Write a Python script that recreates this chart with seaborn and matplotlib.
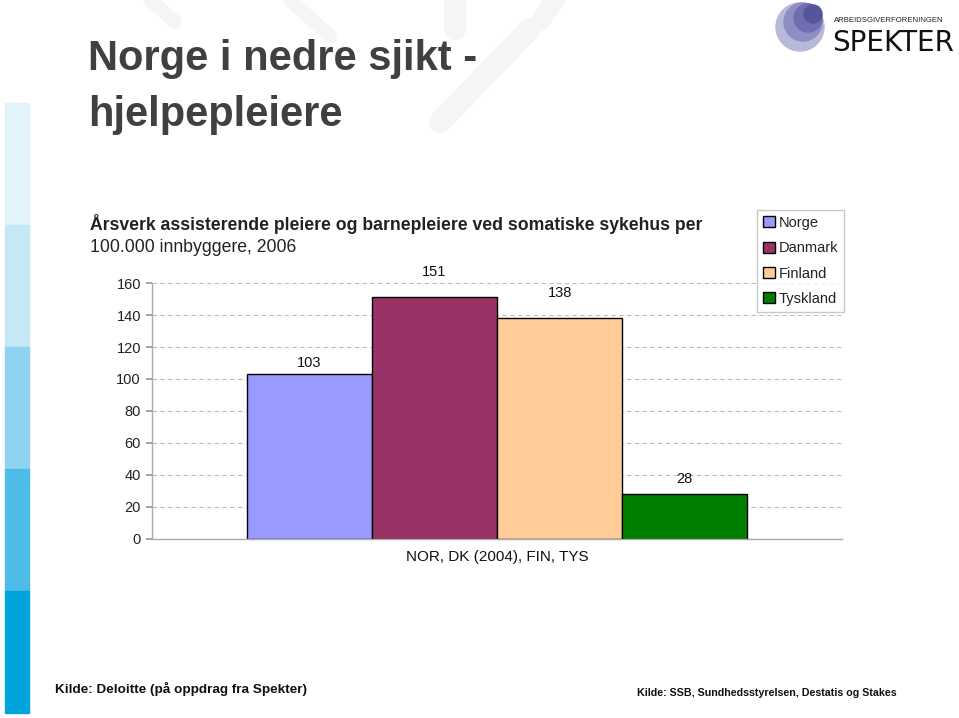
import matplotlib
matplotlib.use("Agg")
import matplotlib.pyplot as plt
import matplotlib.patches as mpatches
from matplotlib import font_manager
import seaborn as sns
import pandas as pd

# Data
countries = ["Norge", "Danmark", "Finland", "Tyskland"]
values = [103, 151, 138, 28]
category = "NOR, DK (2004), FIN, TYS"
bar_colors = ["#9999FF", "#993366", "#FFCC99", "#008000"]
yticks = [0, 20, 40, 60, 80, 100, 120, 140, 160]

df = pd.DataFrame({"group": [category] * len(countries), "land": countries, "verdi": values})

sns.set_theme(style="white")
names = {f.name for f in font_manager.fontManager.ttflist}
narrow = "Liberation Sans Narrow" if "Liberation Sans Narrow" in names else "Liberation Sans"
plt.rcParams["font.family"] = ["Liberation Sans", "DejaVu Sans"]

fig = plt.figure(figsize=(9.59, 7.18), dpi=100)

# left decorative strip
strip_colors = ["#E3F3FB", "#C5E8F7", "#8FD3F0", "#4DBCE7", "#00A4DD"]
seg_h = 122 / 718
for i, c in enumerate(strip_colors):
    y0 = 1 - (103 + 122 * (i + 1)) / 718
    fig.patches.append(mpatches.Rectangle((5 / 959, y0), 24 / 959, seg_h,
                                          transform=fig.transFigure, color=c, zorder=0))

# faint watermark strokes
wm = "#F5F5F5"
fig.add_artist(plt.Line2D([150 / 959, 175 / 959], [1.0, 0.97], color=wm, lw=10, transform=fig.transFigure, zorder=0))
fig.add_artist(plt.Line2D([290 / 959, 330 / 959], [1.0, 0.95], color=wm, lw=10, transform=fig.transFigure, zorder=0))
fig.add_artist(plt.Line2D([455 / 959, 455 / 959], [1.0, 0.96], color=wm, lw=16, transform=fig.transFigure, zorder=0))
fig.add_artist(plt.Line2D([530 / 959, 440 / 959], [0.96, 0.83], color=wm, lw=16, transform=fig.transFigure, zorder=0))
fig.add_artist(plt.Line2D([555 / 959, 540 / 959], [1.0, 0.97], color=wm, lw=14, transform=fig.transFigure, zorder=0))

# headline
fig.text(88 / 959, 1 - 70 / 718, "Norge i nedre sjikt -", fontsize=30, fontweight="bold",
         color="#404040", family=narrow, va="baseline")
fig.text(88 / 959, 1 - 126 / 718, "hjelpepleiere", fontsize=30, fontweight="bold",
         color="#404040", family=narrow, va="baseline")

# logo
logo_c = [("#B8B8D8", 800, 27, 24), ("#8E8EC4", 803, 22, 19), ("#6E6EB0", 808, 18, 14), ("#555599", 813, 14, 9)]
for col, cx, cy, r in logo_c:
    fig.patches.append(mpatches.Ellipse((cx / 959, 1 - cy / 718), 2 * r / 959, 2 * r / 718,
                                        transform=fig.transFigure, color=col, zorder=1))
fig.text(834 / 959, 1 - 22 / 718, "ARBEIDSGIVERFORENINGEN", fontsize=5.6, color="#222222", va="baseline")
fig.text(832 / 959, 1 - 51 / 718, "SPEKTER", fontsize=20, color="#111111", va="baseline", family="DejaVu Sans")

# chart subtitle
fig.text(90 / 959, 1 - 230 / 718, "Årsverk assisterende pleiere og barnepleiere ved somatiske sykehus per",
         fontsize=12.7, fontweight="bold", color="#222222", family=narrow, va="baseline")
fig.text(90 / 959, 1 - 252 / 718, "100.000 innbyggere, 2006",
         fontsize=12.7, color="#222222", family=narrow, va="baseline")

ax = fig.add_axes([152 / 959, 1 - 539 / 718, 690 / 959, 256 / 718])
sns.barplot(data=df, x="group", y="verdi", hue="land", hue_order=countries, palette=bar_colors,
            width=0.726, edgecolor="black", linewidth=1, saturation=1, ax=ax, legend=True)
ax.set_xlim(-0.5, 0.5)
ax.set_ylim(0, 160)
ax.set_yticks(yticks)
ax.set_yticklabels([str(v) for v in yticks], fontsize=10.5, color="#222222")
ax.tick_params(axis="y", length=4, color="#999999", pad=4, left=True)
ax.tick_params(axis="x", length=0, pad=8)
ax.set_xticks([0])
ax.set_xticklabels([category], fontsize=11, family=narrow, color="#111111")
ax.set_xlabel("")
ax.set_ylabel("")
ax.yaxis.grid(True, linestyle=(0, (4, 3)), color="#BBBBBB", linewidth=0.8)
ax.set_axisbelow(True)
for s in ["top", "right"]:
    ax.spines[s].set_visible(False)
for s in ["left", "bottom"]:
    ax.spines[s].set_color("#AAAAAA")
    ax.spines[s].set_linewidth(1)

pads = [3, 13, 13, 6]
for cont, p in zip(ax.containers, pads):
    ax.bar_label(cont, fmt="%d", padding=p, fontsize=10.5, color="#111111")

leg = ax.legend(loc="upper left", bbox_to_anchor=(757 / 959, 1 - 210 / 718), bbox_transform=fig.transFigure,
                frameon=True, fancybox=False, fontsize=10.5, handlelength=0.8, handleheight=0.8,
                handletextpad=0.3, labelspacing=0.78, borderpad=0.4, borderaxespad=0)
leg.get_frame().set_edgecolor("#BBBBBB")
leg.get_frame().set_linewidth(1)
for t in leg.get_texts():
    t.set_color("#222222")

# sources
fig.text(55 / 959, 1 - 693 / 718, "Kilde: Deloitte (på oppdrag fra Spekter)", fontsize=9.7,
         fontweight="bold", color="#111111", va="baseline")
fig.text(637 / 959, 1 - 696 / 718, "Kilde: SSB, Sundhedsstyrelsen, Destatis og Stakes", fontsize=7.7,
         fontweight="bold", color="#111111", va="baseline")

fig.savefig("out.png", dpi=100, facecolor="white")
